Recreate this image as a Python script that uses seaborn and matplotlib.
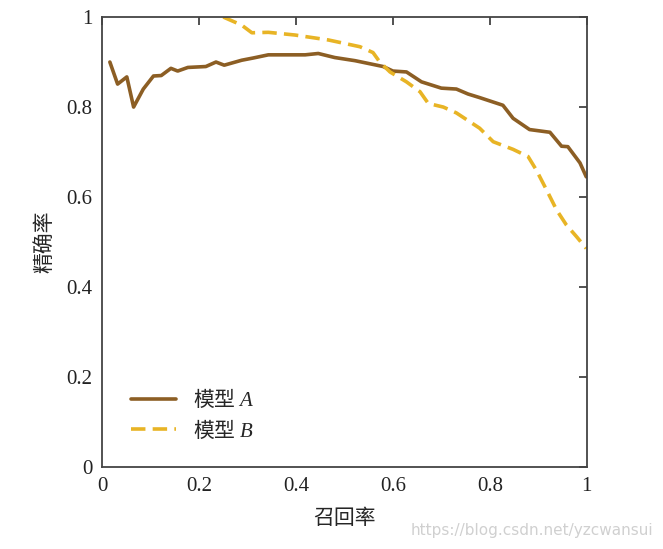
import numpy as np
import pandas as pd
import seaborn as sns
from matplotlib import pyplot as plt

# recall / precision
recall_a = [0.016, 0.032, 0.051, 0.065, 0.085, 0.106, 0.122, 0.142, 0.156, 0.177,
            0.214, 0.235, 0.252, 0.288, 0.312, 0.343, 0.419, 0.446, 0.480, 0.522,
            0.58, 0.60, 0.628, 0.659, 0.70, 0.731, 0.755, 0.779, 0.827, 0.848,
            0.882, 0.924, 0.948, 0.961, 0.986, 0.999]
precision_a = [0.90, 0.851, 0.867, 0.80, 0.84, 0.869, 0.870, 0.886, 0.88, 0.888,
               0.89, 0.90, 0.893, 0.904, 0.909, 0.916, 0.916, 0.919, 0.910, 0.903,
               0.89, 0.88, 0.878, 0.856, 0.842, 0.84, 0.829, 0.821, 0.804, 0.775,
               0.75, 0.744, 0.713, 0.712, 0.676, 0.645]

recall_b = [0.25, 0.288, 0.309, 0.343, 0.398, 0.467, 0.532, 0.559, 0.573, 0.594,
            0.628, 0.656, 0.673, 0.704, 0.731, 0.779, 0.807, 0.848, 0.879, 0.896,
            0.917, 0.938, 0.958, 0.979, 0.999]
precision_b = [1.0, 0.982, 0.965, 0.966, 0.96, 0.949, 0.934, 0.921, 0.90, 0.878,
               0.856, 0.834, 0.808, 0.80, 0.787, 0.753, 0.723, 0.706, 0.69, 0.66,
               0.616, 0.571, 0.538, 0.512, 0.486]

labels = ['模型 $\\it{A}$', '模型 $\\it{B}$']
colors = ['#8C5E24', '#E8B425']

sns.set_theme(style='white')
plt.rcParams['font.family'] = ['Liberation Serif', 'Noto Sans CJK SC']
plt.rcParams['mathtext.fontset'] = 'custom'
plt.rcParams['mathtext.rm'] = 'Noto Sans CJK SC'
plt.rcParams['mathtext.it'] = 'Liberation Serif:italic'
plt.rcParams['axes.unicode_minus'] = False

df = pd.concat([
    pd.DataFrame({'recall': recall_a, 'precision': precision_a, 'model': labels[0]}),
    pd.DataFrame({'recall': recall_b, 'precision': precision_b, 'model': labels[1]}),
])

fig = plt.figure(figsize=(6.63, 5.49), dpi=100)
ax = fig.add_axes([0.154, 0.149, 0.731, 0.82])

sns.lineplot(data=df, x='recall', y='precision', hue='model', style='model',
             palette=colors, dashes=[(None, None), (4, 2)], sort=False,
             linewidth=2.6, estimator=None, ax=ax)

ax.set_xlim(0, 1)
ax.set_ylim(0, 1)
ax.set_xticks([0, 0.2, 0.4, 0.6, 0.8, 1])
ax.set_xticklabels(['0', '0.2', '0.4', '0.6', '0.8', '1'])
ax.set_yticks([0, 0.2, 0.4, 0.6, 0.8, 1])
ax.set_yticklabels(['0', '0.2', '0.4', '0.6', '0.8', '1'])
ax.tick_params(direction='in', length=6, width=1.2, color='#333333',
               top=True, right=True, labelsize=15, labelcolor='#222222', pad=7)
for sp in ax.spines.values():
    sp.set_color('#444444')
    sp.set_linewidth(1.3)

ax.set_xlabel('召回率', fontsize=15, family=['Noto Sans CJK SC'], labelpad=8)
ax.set_ylabel('精确率', fontsize=15, family=['Noto Sans CJK SC'], labelpad=8)

# legend text: CJK font as the base so the non-math part renders
ax.legend(loc='lower left', bbox_to_anchor=(0.02, 0.015), frameon=False,
          prop={'family': 'Noto Sans CJK SC', 'size': 15},
          handlelength=2.2, labelspacing=0.35, title=None)

fig.text(0.985, 0.02, 'https://blog.csdn.net/yzcwansui', ha='right', va='bottom',
         color='#d0d0d0', fontsize=11, family=['DejaVu Sans'])

fig.savefig('out.png', dpi=100)
